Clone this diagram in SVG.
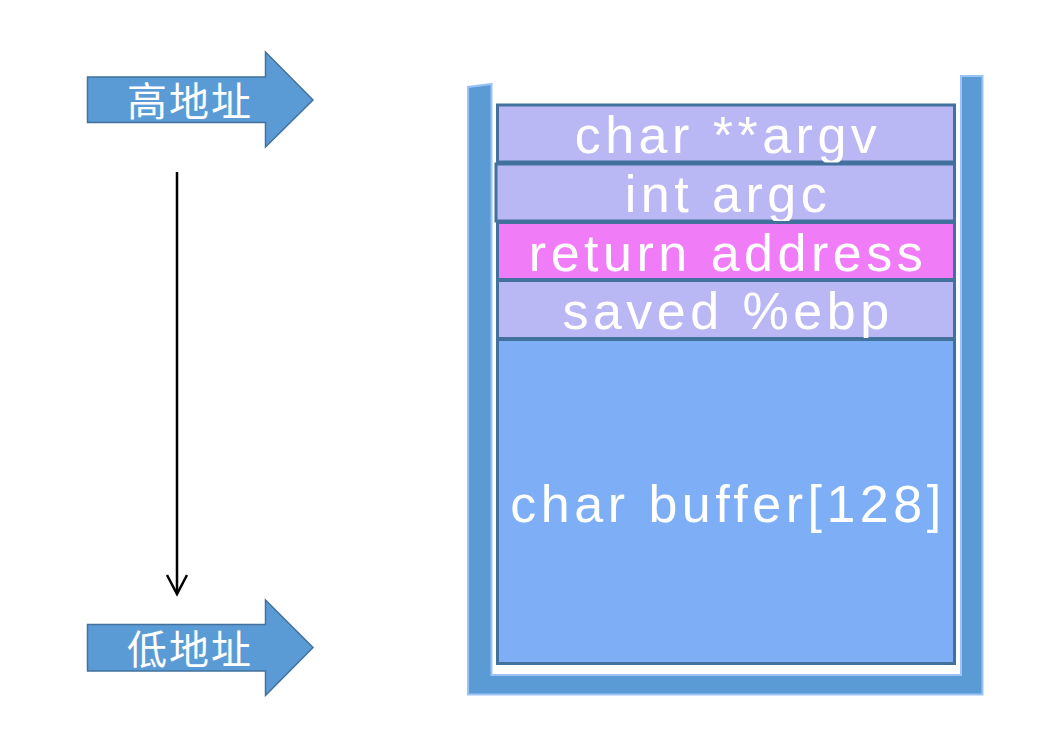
<svg xmlns="http://www.w3.org/2000/svg" width="1062" height="734" viewBox="0 0 1062 734">
<style>
.blk{fill:#5b9bd5;stroke:#41719c;stroke-width:1.5}
.cjk{font-family:"Noto Sans CJK SC","Liberation Sans",sans-serif;font-size:40px;fill:#ffffff;text-anchor:middle;letter-spacing:2px}
.cell{stroke:#41719c;stroke-width:3}
.lav{fill:#b9b8f5}
.pink{fill:#f07cf7}
.buf{fill:#7eaef5}
.lbl{font-family:"Liberation Sans",Arial,sans-serif;font-size:52px;fill:#ffffff;text-anchor:middle;letter-spacing:4.5px}
</style>
<defs>
<marker id="vee" markerWidth="24" markerHeight="24" viewBox="0 0 24 24" refX="20" refY="12" orient="auto" markerUnits="userSpaceOnUse">
<path d="M1,2 L20,12 L1,22" fill="none" stroke="#000" stroke-width="2.5"/>
</marker>
</defs>
<rect width="1062" height="734" fill="#ffffff"/>
<g id="high">
<path class="blk" d="M87.5,77 L265.5,77 L265.5,52 L313,100 L265.5,147 L265.5,122.5 L87.5,122.5 Z"/>
<text class="cjk" x="190" y="116">高地址</text>
</g>
<g id="low">
<path class="blk" d="M87.5,624.5 L265.5,624.5 L265.5,600 L313,647.5 L265.5,695.5 L265.5,671 L87.5,671 Z"/>
<text class="cjk" x="190" y="664">低地址</text>
</g>
<g id="connectors">
<line x1="177" y1="172" x2="177" y2="594" stroke="#000" stroke-width="2.5" marker-end="url(#vee)"/>
</g>
<g id="stack">
<path d="M468,87 L468,694.5 L982.5,694.5 L982.5,76 L961,76 L961,675 L491.5,675 L491.5,84 Z" fill="#5b9bd5" stroke="#9cc3f7" stroke-width="2"/>
</g>
<g id="argv">
<rect class="cell lav" x="497.5" y="105" width="457" height="57"/>
<text class="lbl" x="728" y="153">char **argv</text>
</g>
<g id="argc">
<rect class="cell lav" x="496" y="164" width="458.5" height="57"/>
<text class="lbl" x="728" y="212">int argc</text>
</g>
<g id="ret">
<rect class="cell pink" x="497.5" y="222.5" width="457" height="57"/>
<text class="lbl" x="728" y="271">return address</text>
</g>
<g id="ebp">
<rect class="cell lav" x="497.5" y="280.5" width="457" height="58"/>
<text class="lbl" x="728" y="329">saved %ebp</text>
</g>
<g id="buffer">
<rect class="cell buf" x="497.5" y="339.5" width="457" height="324"/>
<text class="lbl" x="728" y="522">char buffer[128]</text>
</g>
</svg>
